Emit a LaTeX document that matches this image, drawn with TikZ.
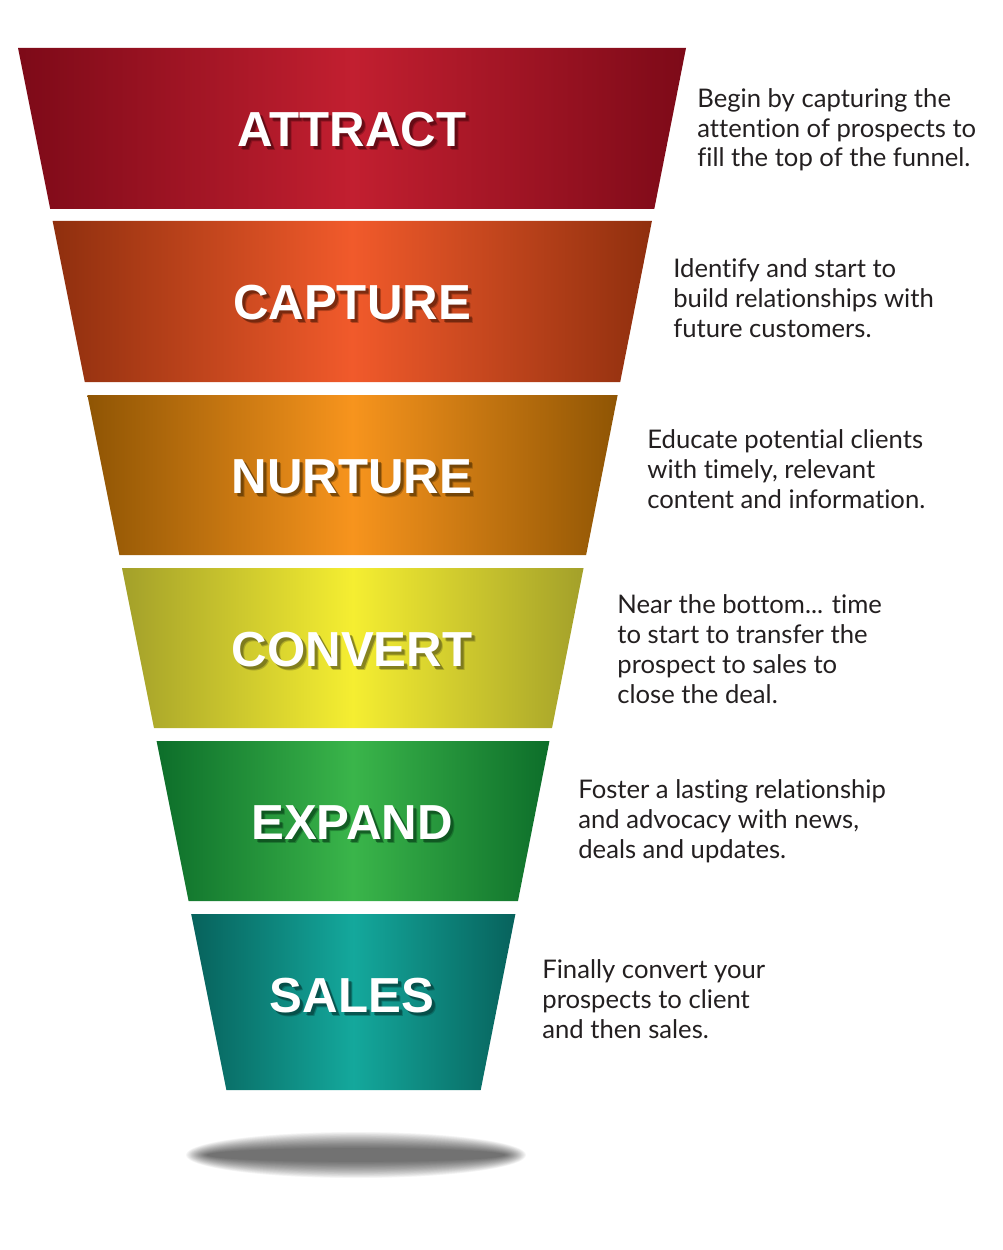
\documentclass[tikz,border=0pt]{standalone}
\usepackage{fontspec}
\setmainfont{Lato}[Ligatures=NoCommon]
\newfontfamily\titlefont{Liberation Sans}

\definecolor{attractDark}{HTML}{7D0A18}
\definecolor{attractLight}{HTML}{C21F30}
\definecolor{captureDark}{HTML}{8F2F0E}
\definecolor{captureLight}{HTML}{F15A2B}
\definecolor{nurtureDark}{HTML}{8F5504}
\definecolor{nurtureLight}{HTML}{F7941D}
\definecolor{convertDark}{HTML}{A3A02A}
\definecolor{convertLight}{HTML}{F5EE31}
\definecolor{expandDark}{HTML}{0D6E2A}
\definecolor{expandLight}{HTML}{3AB54A}
\definecolor{salesDark}{HTML}{07625C}
\definecolor{salesLight}{HTML}{14A89C}
\definecolor{notegray}{HTML}{231F20}

\begin{document}
\begin{tikzpicture}[x=0.02cm,y=-0.02cm,
		title/.style={font=\titlefont\bfseries\fontsize{28}{30}\selectfont,text=white,inner sep=0pt},
		note/.style={font=\fontsize{14.6}{17}\selectfont,text=notegray,align=left,anchor=base west,inner sep=0pt}]
		\useasboundingbox (0,0) rectangle (1002,1250);
		% soft shadow under the funnel
		\foreach \i in {0,...,19}
			\fill[black,opacity=0.04] (356,1155) ellipse ({170-1.1*\i} and {23-0.85*\i});
		% the funnel bands
		\foreach \t/\h/\word/\band in {48/161/ATTRACT/attract,221/161/CAPTURE/capture,395/160/NURTURE/nurture,568/160/CONVERT/convert,741/160/EXPAND/expand,914/176/SALES/sales}{
			\shade[left color=\band Dark,right color=\band Dark,middle color=\band Light]
				({18+0.2*(\t-48)},\t) -- ({686-0.197*(\t-48)},\t) -- ({686-0.197*(\t+\h-48)},\t+\h) -- ({18+0.2*(\t+\h-48)},\t+\h) -- cycle;
			\node[title,text=\band Dark!60!black,opacity=0.35] (\band blur) at (356,\t+86) {\word};
			\node[title,text=\band Dark!60!black,opacity=0.6] (\band shadow) at (355,\t+85) {\word};
			\node[title] (\band) at (352,\t+82) {\word};
		}
		% the notes on the right (anchored at their last line)
		\node[note] (attract note) at (697,167) {Begin by capturing the\\attention of prospects to\\fill the top of the funnel.};
		\node[note] (capture note) at (673,337) {Identify and start to\\build relationships with\\future customers.};
		\node[note] (nurture note) at (647,508) {Educate potential clients\\with timely, relevant\\content and information.};
		\node[note] (convert note) at (617,703) {Near the bottom... time\\to start to transfer the\\prospect to sales to\\close the deal.};
		\node[note] (expand note) at (578,858) {Foster a lasting relationship\\and advocacy with news,\\deals and updates.};
		\node[note] (sales note) at (542,1038) {Finally convert your\\prospects to client\\and then sales.};
	\end{tikzpicture}
\end{document}
